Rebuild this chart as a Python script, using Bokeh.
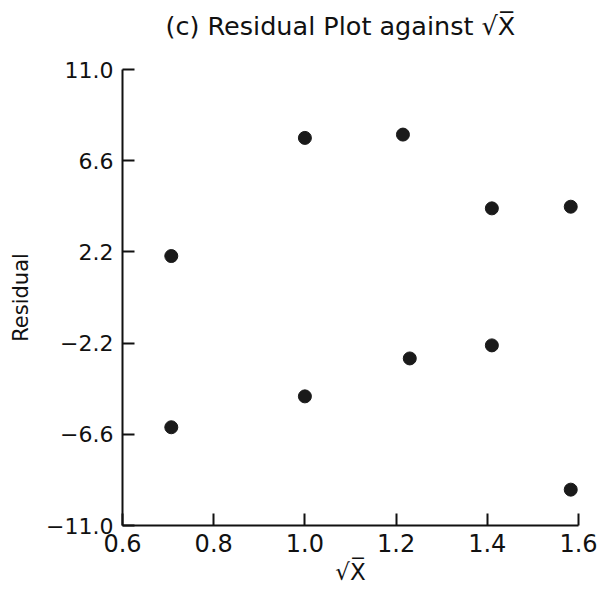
from bokeh.plotting import figure
from bokeh.models import Range1d, FixedTicker, ColumnDataSource, Title
from bokeh.embed import file_html
from bokeh.resources import INLINE

# data
sqrt_x = [0.707, 0.707, 1.0, 1.0, 1.215, 1.23, 1.41, 1.41, 1.583, 1.583]
residual = [2.0, -6.26, 7.7, -4.77, 7.86, -2.94, 4.3, -2.31, 4.38, -9.27]
y_ticks = [-11.0, -6.6, -2.2, 2.2, 6.6, 11.0]
x_ticks = [0.6, 0.8, 1.0, 1.2, 1.4, 1.6]
title_text = "(c) Residual Plot against √X̅"

FONT = "DejaVu Sans"

src = ColumnDataSource(dict(x=sqrt_x, y=residual))

p = figure(width=599, height=597, output_backend="svg", toolbar_location=None,
           x_range=Range1d(0.6, 1.6), y_range=Range1d(-11, 11),
           min_border_left=122, min_border_right=21, min_border_top=0,
           min_border_bottom=72, title=title_text)
p.outline_line_color = None
p.xgrid.visible = False
p.ygrid.visible = False
p.background_fill_color = "white"
p.border_fill_color = "white"

p.title.text_font = FONT
p.title.text_font_size = "25.5px"
p.title.text_font_style = "normal"
p.title.align = "left"
p.title.offset = 43
p.title.standoff = 16
p.title.text_color = "#111111"

# blank spacer between the title and the plot frame
p.add_layout(Title(text=" ", text_font_size="10px", standoff=8), "above")

p.scatter("x", "y", source=src, size=13, color="#1a1a1a")

for ax in (p.xaxis[0], p.yaxis[0]):
    ax.axis_line_width = 2
    ax.axis_line_color = "#111111"
    ax.major_tick_line_width = 2
    ax.major_tick_line_color = "#111111"
    ax.major_tick_in = 12
    ax.major_tick_out = 0
    ax.minor_tick_line_color = None
    ax.major_label_text_font = FONT
    ax.major_label_text_color = "#111111"
    ax.axis_label_text_font = FONT
    ax.axis_label_text_font_style = "normal"
    ax.axis_label_text_color = "#111111"

p.xaxis.ticker = FixedTicker(ticks=x_ticks)
p.xaxis.major_label_overrides = {t: f"{t:.1f}" for t in x_ticks}
p.xaxis.major_label_text_font_size = "24px"
p.xaxis.major_label_standoff = 8
p.xaxis.axis_label = "√X̅"
p.xaxis.axis_label_text_font_size = "23px"
p.xaxis.axis_label_standoff = 4

p.yaxis.ticker = FixedTicker(ticks=y_ticks)
p.yaxis.major_label_overrides = {t: f"{t:.1f}".replace("-", "\u2212") for t in y_ticks}
p.yaxis.major_label_text_font_size = "22px"
p.yaxis.major_label_standoff = 9
p.yaxis.axis_label = "Residual"
p.yaxis.axis_label_text_font_size = "21px"
p.yaxis.axis_label_standoff = 10

open("out.html", "w").write(file_html(p, INLINE))
